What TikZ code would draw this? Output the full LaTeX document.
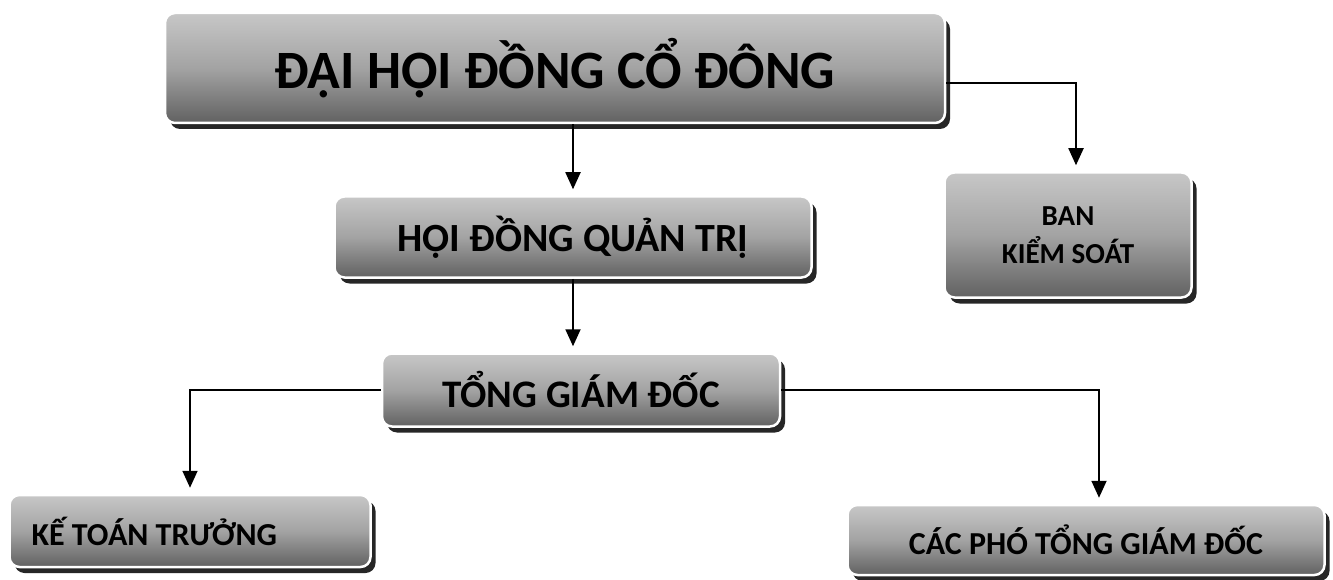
\documentclass[tikz,border=0pt]{standalone}
\usepackage{fontspec}
\setmainfont{Carlito}
\usetikzlibrary{shadows,arrows.meta,calc}
\begin{document}
\begin{tikzpicture}[x=1pt,y=-1pt,
  box/.style={rectangle, rounded corners=10pt, draw=white, line width=2.5pt,
    top color=black!22, bottom color=black!62, middle color=black!36,
    drop shadow={shadow xshift=5pt, shadow yshift=-6pt, fill=black!85, opacity=1},
    text=black, inner sep=0pt, align=center},
  arr/.style={line width=1.8pt, shorten >=6pt, -{Triangle[length=17pt,width=15pt]}}
]
\useasboundingbox (0,0) rectangle (1333,580);
\fill[white] (0,0) rectangle (1333,580);
\node[box, minimum width=780pt, minimum height=110pt, font=\bfseries\fontsize{54}{60}\selectfont] (b1) at (555,68) {ĐẠI HỘI ĐỒNG CỔ ĐÔNG};
\node[box, minimum width=477pt, minimum height=81pt, font=\bfseries\fontsize{40}{46}\selectfont] (b2) at (573,237) {HỘI ĐỒNG QUẢN TRỊ};
\node[box, minimum width=247pt, minimum height=125pt, font=\bfseries\fontsize{29}{38}\selectfont] (b3) at (1068,235) {BAN\\KIỂM SOÁT};
\node[box, minimum width=398pt, minimum height=73pt, font=\bfseries\fontsize{39}{44}\selectfont] (b4) at (581,390) {TỔNG GIÁM ĐỐC};
\node[box, minimum width=361pt, minimum height=72pt, font=\bfseries\fontsize{32}{38}\selectfont] (b5) at (190,531) {\makebox[317pt][l]{KẾ TOÁN TRƯỞNG}};
\node[box, minimum width=477pt, minimum height=70pt, font=\bfseries\fontsize{32}{38}\selectfont] (b6) at (1086,540) {CÁC PHÓ TỔNG GIÁM ĐỐC};
\draw[arr] (b1.south -| b2.north) -- (b2.north);
\draw[arr] ([yshift=-15pt]b1.east) -| ([xshift=8pt]b3.north);
\draw[arr] (b2.south) -- (b2.south |- b4.north);
\draw[arr] (b4.west) -| (b5.north);
\draw[arr] (b4.east) -| ([xshift=13pt]b6.north);
\end{tikzpicture}
\end{document}
